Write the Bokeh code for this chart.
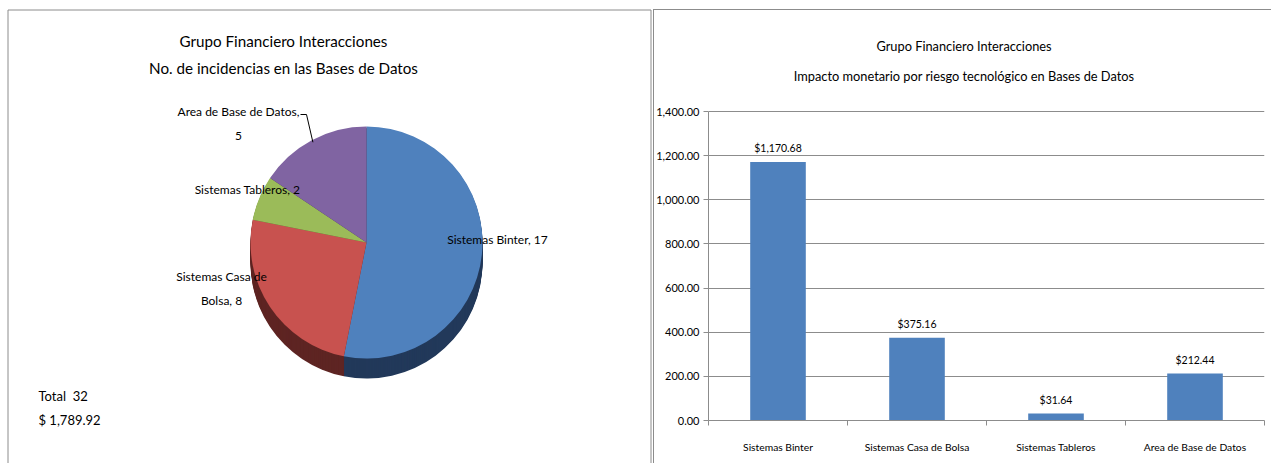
import math
from bokeh.plotting import figure
from bokeh.layouts import row
from bokeh.models import (ColumnDataSource, Range1d, FixedTicker, NumeralTickFormatter)
from bokeh.core.properties import value
from bokeh.embed import file_html
from bokeh.resources import INLINE

# ---------------- data ----------------
categories = ["Sistemas Binter", "Sistemas Casa de Bolsa", "Sistemas Tableros", "Area de Base de Datos"]
incidents = [17, 8, 2, 5]
impact = [1170.68, 375.16, 31.64, 212.44]
y_ticks = [0, 200, 400, 600, 800, 1000, 1200, 1400]
title_line1 = "Grupo Financiero Interacciones"
pie_title2 = "No. de incidencias en las Bases de Datos"
bar_title2 = "Impacto monetario por riesgo tecnológico en Bases de Datos"

# ---------------- style ----------------
FONT = "Lato"
GRAY = "#8c8c8c"
slice_colors = ["#4F81BD", "#C8524F", "#9BBB59", "#8064A2"]
side_colors = ["#22395A", "#5E2523", "#4E612C", "#3F3152"]
BAR_COLOR = "#4F81BD"

H = 463
LW = 653
RW = 618

# ================= left panel (pie) =================
def X(px):
    return px

def Y(py):
    return H - py

left = figure(width=LW, height=H, x_range=Range1d(0, LW), y_range=Range1d(0, H),
              output_backend="svg", toolbar_location=None, min_border=0,
              x_axis_location=None, y_axis_location=None, frame_align=False)
left.grid.grid_line_color = None
left.outline_line_color = None

# panel border
left.line([X(7.5), X(7.5), X(650.5), X(650.5)], [Y(480), Y(9.5), Y(9.5), Y(480)],
          line_color=GRAY, line_width=1)

total = sum(incidents)
cum = [0]
for v in incidents:
    cum.append(cum[-1] + v)
starts = [math.pi / 2 - 2 * math.pi * cum[i] / total for i in range(len(incidents))]
ends = [math.pi / 2 - 2 * math.pi * cum[i + 1] / total for i in range(len(incidents))]

cx, cy, R, DEPTH = X(366), Y(242), 116, 20

side = dict(x=[], y=[], s=[], e=[], c=[])
for d in range(DEPTH, 0, -1):
    for i in range(len(incidents)):
        side["x"].append(cx)
        side["y"].append(cy - d)
        side["s"].append(starts[i])
        side["e"].append(ends[i])
        side["c"].append(side_colors[i])
left.wedge(x="x", y="y", radius=R, start_angle="s", end_angle="e", direction="clock",
           fill_color="c", line_color=None, source=ColumnDataSource(side))

top = ColumnDataSource(dict(x=[cx] * len(incidents), y=[cy] * len(incidents),
                            s=starts, e=ends, c=slice_colors))
left.wedge(x="x", y="y", radius=R, start_angle="s", end_angle="e", direction="clock",
           fill_color="c", line_color=None, source=top)

# data labels
label_wrap = [0, 3, 0, 5]
label_pos = [(497, 239), (221, 288), (247, 189), (238, 123)]
texts = []
for cat, n, w in zip(categories, incidents, label_wrap):
    s = f"{cat}, {n}"
    if w:
        words = s.split(" ")
        s = " ".join(words[:w]) + "\n" + " ".join(words[w:])
    texts.append(s)
left.text(x=[X(p[0]) for p in label_pos], y=[Y(p[1]) for p in label_pos], text=texts,
          text_font=value(FONT), text_font_size="12px", text_align="center",
          text_baseline="middle", text_line_height=1.55, text_color="#000000")

# leader line for the small top-left slice
mid = (starts[3] + ends[3]) / 2
ex, ey = cx + R * 0.98 * math.cos(mid), cy + R * 0.98 * math.sin(mid)
left.line([X(300), X(306), ex], [Y(114), Y(114), ey], line_color="#000000", line_width=1)

# titles
left.text(x=[X(283), X(283)], y=[Y(40), Y(67)], text=[title_line1, pie_title2],
          text_font=value(FONT), text_font_size="15.2px", text_align="center",
          text_baseline="middle", text_color="#000000")

# totals
left.text(x=[X(38), X(38)], y=[Y(395), Y(419)],
          text=[f"Total\u00a0\u00a0{total}", f"$ {sum(impact):,.2f}"],
          text_font=value(FONT), text_font_size="13px", text_align="left",
          text_baseline="middle", text_color="#000000")

# ================= right panel (bars) =================
n = len(categories)
centers = [i + 0.5 for i in range(n)]
FRAME_TOP, FRAME_BOTTOM, FRAME_LEFT, FRAME_RIGHT = 111, 420, 707, 1264
Y_MAX = y_ticks[-1]
units_per_px = Y_MAX / (FRAME_BOTTOM - FRAME_TOP)
y_top = Y_MAX + FRAME_TOP * units_per_px   # frame reaches the canvas top (room for the titles)

right = figure(width=RW, height=H, x_range=Range1d(0, n),
               y_range=Range1d(0, y_top), output_backend="svg", toolbar_location=None,
               min_border_left=FRAME_LEFT - LW, min_border_right=LW + RW - FRAME_RIGHT,
               min_border_top=0, min_border_bottom=H - FRAME_BOTTOM, frame_align=False)
right.outline_line_color = None
right.border_fill_color = None
right.background_fill_color = None
right.styles = {
    "background-image": "linear-gradient(#8c8c8c, #8c8c8c), linear-gradient(#8c8c8c, #8c8c8c)",
    "background-size": "1px 100%, 100% 1px",
    "background-position": "0px 9px, 0px 9px",
    "background-repeat": "no-repeat",
}
right.xgrid.grid_line_color = None
right.ygrid.ticker = FixedTicker(ticks=y_ticks)
right.ygrid.grid_line_color = GRAY

ya = right.yaxis[0]
ya.ticker = FixedTicker(ticks=y_ticks)
ya.bounds = (0, Y_MAX)
ya.formatter = NumeralTickFormatter(format="0,0.00")
ya.axis_line_color = GRAY
ya.major_tick_line_color = GRAY
ya.major_tick_out = 5
ya.major_tick_in = 0
ya.minor_tick_line_color = None
ya.major_label_standoff = 4
ya.major_label_text_font = FONT
ya.major_label_text_font_size = "11px"
ya.major_label_text_color = "#000000"

xa = right.xaxis[0]
xa.ticker = FixedTicker(ticks=centers, minor_ticks=list(range(n + 1)))
xa.major_label_overrides = {c: name for c, name in zip(centers, categories)}
xa.axis_line_color = GRAY
xa.major_tick_out = 0
xa.major_tick_in = 0
xa.minor_tick_out = 5
xa.minor_tick_in = 0
xa.minor_tick_line_color = GRAY
xa.major_label_standoff = 15
xa.major_label_text_font = FONT
xa.major_label_text_font_size = "10.3px"
xa.major_label_text_color = "#000000"

src = ColumnDataSource(dict(x=centers, val=impact, lab=[f"${v:,.2f}" for v in impact]))
right.vbar(x="x", top="val", width=0.4, fill_color=BAR_COLOR, line_color=None, source=src)
right.text(x="x", y="val", text="lab", source=src, y_offset=-8,
           text_font=value(FONT), text_font_size="10.5px", text_align="center",
           text_baseline="bottom", text_color="#000000")

def rx(px):
    return (px - FRAME_LEFT) / ((FRAME_RIGHT - FRAME_LEFT) / n)

def ry(py):
    return Y_MAX + (FRAME_TOP - py) * units_per_px

right.text(x=[rx(963), rx(963)], y=[ry(45), ry(75)], text=[title_line1, bar_title2],
           text_font=value(FONT), text_font_size="12.8px", text_align="center",
           text_baseline="middle", text_color="#000000")

layout = row(left, right, spacing=0)
open("out.html", "w").write(file_html(layout, INLINE))
